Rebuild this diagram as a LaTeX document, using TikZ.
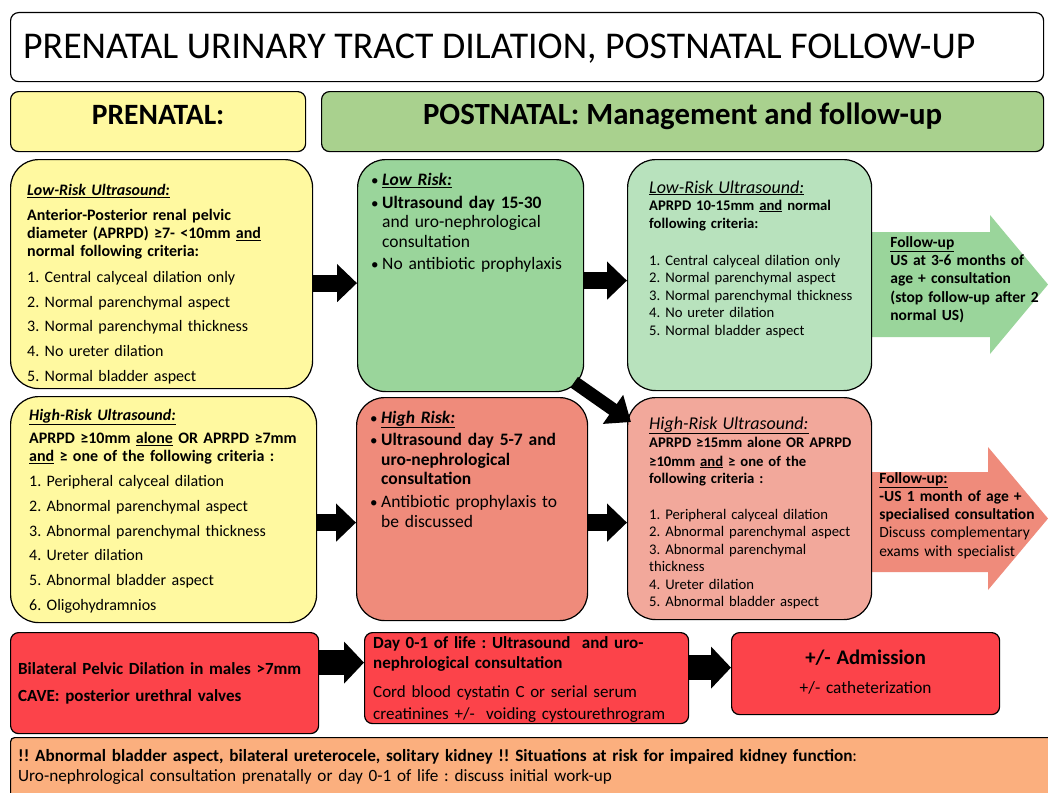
\documentclass[tikz,border=0pt]{standalone}
\usepackage{fontspec}
\setmainfont{Carlito}
\usepackage{tikz}
\usetikzlibrary{positioning,arrows.meta}

\definecolor{prefill}{HTML}{FFF9A0}
\definecolor{postfill}{HTML}{A9D18E}
\definecolor{lowfill}{HTML}{9AD59B}
\definecolor{lowusfill}{HTML}{B8E2BD}
\definecolor{highfill}{HTML}{EF8B7B}
\definecolor{highusfill}{HTML}{F2A89B}
\definecolor{alarmfill}{HTML}{FC434A}
\definecolor{warnfill}{HTML}{FBAF7E}

\newcommand{\postbullet}{\makebox[11pt][l]{\fontsize{15}{15}\selectfont •}}
\frenchspacing

\begin{document}
\begin{tikzpicture}
[x=1pt, y=-1pt,
flatbox/.style={draw=black, line width=1.2pt, rounded corners=8pt, inner sep=0pt, anchor=north west},
roundbox/.style={draw=black, line width=1.2pt, rounded corners=28pt, inner sep=0pt, anchor=north west},
boxtext/.style={inner sep=0pt, anchor=north west, align=left},
blockarrow/.style={line width=17pt, -{Triangle[length=20pt, width=37pt]}},
diagarrow/.style={line width=13pt, -{Triangle[length=22pt, width=34pt]}},
bottomarrow/.style={line width=25pt, -{Triangle[length=20pt, width=41pt]}},
]
\useasboundingbox (0,0) rectangle (1048,792);
\fill[white] (0,0) rectangle (1048,792);

% follow-up arrows
\fill[lowfill] (871,232) -- (990,232) -- (990,215) -- (1048,284.5) -- (990,354) -- (990,337) -- (871,337) -- cycle;
\fill[highfill] (871,472) -- (988,472) -- (988,447) -- (1048,518.5) -- (988,590) -- (988,572) -- (871,572) -- cycle;

% headers
\node[flatbox, fill=white, minimum width=1033pt, minimum height=69pt] (title) at (10,12) {};
\node[flatbox, fill=prefill, minimum width=295pt, minimum height=60pt] (prehead) at (10,91) {};
\node[flatbox, fill=postfill, minimum width=722pt, minimum height=60pt] (posthead) at (321,91) {};

\node[anchor=base west, inner sep=0pt, font=\fontsize{37.8}{40}\selectfont] (titletext) at ([xshift=13pt, yshift=-11.5pt]title.west) {PRENATAL URINARY TRACT DILATION, POSTNATAL FOLLOW-UP};
\node[anchor=base, inner sep=0pt, font=\bfseries\fontsize{29.5}{32}\selectfont] (pretitle) at ([yshift=-3pt]prehead.center) {PRENATAL:};
\node[anchor=base, inner sep=0pt, font=\bfseries\fontsize{30.8}{32}\selectfont] (posttitle) at ([yshift=-3pt]posthead.center) {POSTNATAL: Management and follow-up};

% risk boxes
\node[roundbox, fill=prefill, minimum width=302pt, minimum height=229pt] (prelow) at (10,159) {};
\node[roundbox, fill=prefill, minimum width=306pt, minimum height=226pt] (prehigh) at (10,396) {};
\node[roundbox, fill=lowfill, minimum width=226pt, minimum height=232pt] (lowrisk) at (357,159) {};
\node[roundbox, fill=highfill, minimum width=231pt, minimum height=223pt] (highrisk) at (356,397) {};
\node[roundbox, fill=lowusfill, minimum width=244pt, minimum height=231pt] (lowus) at (627,159) {};
\node[roundbox, fill=highusfill, minimum width=244pt, minimum height=222pt] (highus) at (627,397) {};

% urgent boxes
\node[flatbox, fill=alarmfill, minimum width=308pt, minimum height=101pt] (bilat) at (10,632) {};
\node[flatbox, fill=alarmfill, minimum width=324pt, minimum height=91pt] (dayzero) at (364,632) {};
\node[flatbox, fill=alarmfill, minimum width=268pt, minimum height=82pt] (admit) at (731,632) {};
\node[flatbox, rounded corners=4pt, fill=warnfill, minimum width=1050pt, minimum height=70pt] (warn) at (10,737) {};

% texts
\node[boxtext, text width=290pt, font=\fontsize{16}{18}\selectfont, below right=25pt and 17pt of prelow.north west] (prelowtext) {%
\textbf{\textit{\underline{Low-Risk Ultrasound:}}}\\[7pt]
\textbf{Anterior-Posterior renal pelvic}\\
\textbf{diameter (APRPD) ≥7- <10mm \underline{and}}\\
\textbf{normal following criteria:}\\[8pt]
1. Central calyceal dilation only\\[6.7pt]
2. Normal parenchymal aspect\\[6.7pt]
3. Normal parenchymal thickness\\[6.7pt]
4. No ureter dilation\\[6.7pt]
5. Normal bladder aspect};

\node[boxtext, text width=290pt, font=\fontsize{16}{18}\selectfont, below right=13pt and 19pt of prehigh.north west] (prehightext) {%
\textbf{\textit{\underline{High-Risk Ultrasound:}}}\\[5pt]
\textbf{APRPD ≥10mm \underline{alone} OR APRPD ≥7mm}\\
\textbf{\underline{and} ≥ one of the following criteria :}\\[7pt]
1. Peripheral calyceal dilation\\[6.8pt]
2. Abnormal parenchymal aspect\\[6.8pt]
3. Abnormal parenchymal thickness\\[6.8pt]
4. Ureter dilation\\[6.8pt]
5. Abnormal bladder aspect\\[6.8pt]
6. Oligohydramnios};

\node[boxtext, text width=215pt, font=\fontsize{17.5}{19.5}\selectfont, below right=13.7pt and 14pt of lowrisk.north west] (lowrisktext) {%
\postbullet\textbf{\textit{\underline{Low Risk:}}}\\[3.5pt]
\postbullet\textbf{Ultrasound day 15-30}\\
\hspace*{11pt}and uro-nephrological\\[0.5pt]
\hspace*{11pt}consultation\\[2.5pt]
\postbullet No antibiotic prophylaxis};

\node[boxtext, text width=220pt, font=\fontsize{17.5}{19.5}\selectfont, below right=13.7pt and 14pt of highrisk.north west] (highrisktext) {%
\postbullet\textbf{\textit{\underline{High Risk:}}}\\[2.5pt]
\postbullet\textbf{Ultrasound day 5-7 and}\\[0.5pt]
\hspace*{11pt}\textbf{uro-nephrological}\\
\hspace*{11pt}\textbf{consultation}\\[3.5pt]
\postbullet Antibiotic prophylaxis to\\
\hspace*{11pt}be discussed};

\node[boxtext, text width=222pt, font=\fontsize{14.7}{17.5}\selectfont, below right=21.4pt and 22pt of lowus.north west] (lowustext) {%
{\fontsize{18}{17.5}\selectfont\textit{\underline{Low-Risk Ultrasound:}}}\\[-0.5pt]
\textbf{APRPD 10-15mm \underline{and} normal}\\[0.5pt]
\textbf{following criteria:}\\[19.5pt]
1. Central calyceal dilation only\\
2. Normal parenchymal aspect\\
3. Normal parenchymal thickness\\
4. No ureter dilation\\
5. Normal bladder aspect};

\node[boxtext, text width=222pt, font=\fontsize{14.7}{17.5}\selectfont, below right=19.4pt and 22pt of highus.north west] (highustext) {%
{\fontsize{18}{17.5}\selectfont\textit{\underline{High-Risk Ultrasound:}}}\\[0.5pt]
\textbf{APRPD ≥15mm alone OR APRPD}\\[1.5pt]
\textbf{≥10mm \underline{and} ≥ one of the}\\[-0.5pt]
\textbf{following criteria :}\\[18.5pt]
1. Peripheral calyceal dilation\\
2. Abnormal parenchymal aspect\\
3. Abnormal parenchymal\\
thickness\\
4. Ureter dilation\\
5. Abnormal bladder aspect};

\node[boxtext, text width=155pt, font=\bfseries\fontsize{15.5}{18.25}\selectfont, below right=77.2pt and 18pt of lowus.north east] (fupgreentext) {%
\underline{Follow-up}\\
US at 3-6 months of\\
age + consultation\\
(stop follow-up after 2\\
normal US)};

\node[boxtext, text width=168pt, font=\fontsize{15.5}{18.25}\selectfont, below right=75.1pt and 7pt of highus.north east] (fupredtext) {%
\textbf{\underline{Follow-up:}}\\
\textbf{-US 1 month of age +}\\
\textbf{specialised consultation}\\
Discuss complementary\\
exams with specialist};

\node[boxtext, text width=300pt, font=\bfseries\fontsize{17}{18}\selectfont, below right=30pt and 8pt of bilat.north west] (bilattext) {%
Bilateral Pelvic Dilation in males >7mm\\[9pt]
CAVE: posterior urethral valves};

\node[boxtext, text width=315pt, font=\fontsize{17}{20}\selectfont, below right=4pt and 9pt of dayzero.north west] (dayzerotext) {%
\textbf{Day 0-1 of life : Ultrasound\ \ and uro-}\\
\textbf{nephrological consultation}\\[9pt]
Cord blood cystatin C or serial serum\\[2pt]
creatinines +/-\ \ voiding cystourethrogram};

\node[inner sep=0pt, anchor=north, align=center, text width=250pt, font=\fontsize{17.3}{20}\selectfont, below=17.5pt of admit.north] (admittext) {%
{\fontsize{20.7}{22}\selectfont\textbf{+/- Admission}}\\[9pt]
+/- catheterization};

\node[boxtext, text width=1020pt, font=\fontsize{17.2}{20}\selectfont, below right=12pt and 8pt of warn.north west] (warntext) {%
\textbf{!! Abnormal bladder aspect, bilateral ureterocele, solitary kidney !! Situations at risk for impaired kidney function}:\\
Uro-nephrological consultation prenatally or day 0-1 of life : discuss initial work-up};

% connectors
\draw[blockarrow] ([yshift=-9pt]prelow.east) -- ([yshift=-9pt]prelow.east -| lowrisk.west);
\draw[blockarrow] ([yshift=-13pt]prehigh.east) -- ([yshift=-13pt]prehigh.east -| highrisk.west);
\draw[blockarrow] ([yshift=-5pt]lowrisk.east) -- ([yshift=-5pt]lowrisk.east -| lowus.west);
\draw[blockarrow] ([yshift=-13.5pt]highrisk.east) -- ([yshift=-13.5pt]highrisk.east -| highus.west);
\draw[diagarrow] ([xshift=-10pt, yshift=10pt]lowrisk.south east) -- ([xshift=4pt, yshift=-25pt]highus.north west);
\draw[bottomarrow] ([yshift=20.5pt]bilat.east) -- ([yshift=20.5pt]bilat.east -| dayzero.west);
\draw[bottomarrow] ([yshift=10.5pt]dayzero.east) -- ([yshift=10.5pt]dayzero.east -| admit.west);
\end{tikzpicture}
\end{document}
